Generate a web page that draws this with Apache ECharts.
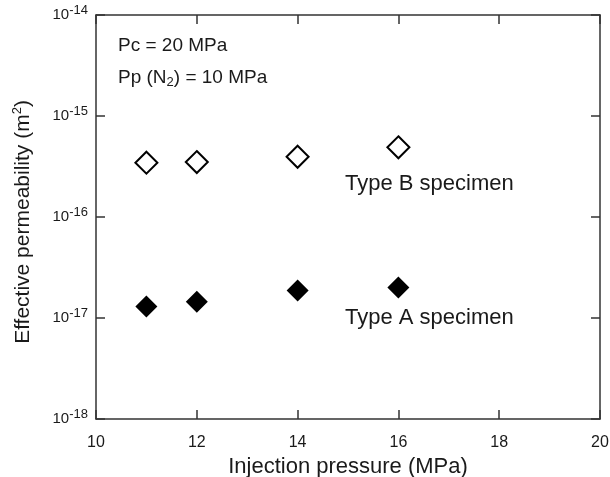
<!DOCTYPE html>
<html>
<head>
<meta charset="utf-8">
<script src="https://cdn.jsdelivr.net/npm/echarts@6/dist/echarts.min.js"></script>
<style>
  html, body { margin: 0; padding: 0; background: #fff; }
  #chart { width: 610px; height: 477px; }
</style>
</head>
<body>
<div id="chart"></div>
<script>
// Injection pressure (MPa) for each measurement
var pressure = [11, 12, 14, 16];
// Effective permeability (m^2)
var typeB = [3.45e-16, 3.5e-16, 3.95e-16, 4.9e-16];
var typeA = [1.3e-17, 1.45e-17, 1.87e-17, 2.0e-17];
// Axis ranges / ticks
var xTicks = { min: 10, max: 20, step: 2 };
var yRange = { min: 1e-18, max: 1e-14 };

var FONT = '"Liberation Sans", Arial, Helvetica, sans-serif';
var INK = '#1a1a1a';
var FRAME = '#333';

function pairs(xs, ys) {
  return xs.map(function (x, i) { return [x, ys[i]]; });
}

function powLabel(v) {
  var e = Math.round(Math.log10(v));
  return '{b|10}{s|' + e + '}';
}

var chart = echarts.init(document.getElementById('chart'), null, { renderer: 'canvas' });

var tickBase = { show: true, inside: true, length: 9, lineStyle: { color: FRAME, width: 1.5 } };
var lineBase = { show: true, lineStyle: { color: FRAME, width: 1.5 } };

var option = {
  animation: false,
  backgroundColor: '#fff',
  grid: { left: 96, right: 10, top: 15, bottom: 58, containLabel: false, outerBoundsMode: 'none' },
  xAxis: [{
    type: 'value', position: 'bottom',
    min: xTicks.min, max: xTicks.max, interval: xTicks.step,
    axisLine: lineBase, axisTick: tickBase, splitLine: { show: false },
    axisLabel: { color: INK, fontFamily: FONT, fontSize: 16, margin: 16 },
    name: 'Injection pressure (MPa)', nameLocation: 'middle', nameGap: 37,
    nameTextStyle: { color: INK, fontFamily: FONT, fontSize: 22 }
  }, {
    type: 'value', position: 'top',
    min: xTicks.min, max: xTicks.max, interval: xTicks.step,
    axisLine: lineBase, axisTick: tickBase, axisLabel: { show: false }, splitLine: { show: false }
  }],
  yAxis: [{
    type: 'log', logBase: 10, position: 'left',
    min: yRange.min, max: yRange.max,
    axisLine: lineBase, axisTick: tickBase, splitLine: { show: false }, minorTick: { show: false },
    axisLabel: {
      formatter: powLabel, margin: 8,
      rich: {
        b: { color: INK, fontFamily: FONT, fontSize: 15 },
        s: { color: INK, fontFamily: FONT, fontSize: 13, padding: [0, 0, 10, 0] }
      }
    },
    name: 'Effective permeability (m{sup|2})', nameLocation: 'middle', nameGap: 60,
    nameTextStyle: {
      color: INK, fontFamily: FONT, fontSize: 21, padding: [0, 10, 0, 0],
      rich: { sup: { color: INK, fontFamily: FONT, fontSize: 13, padding: [0, 0, 12, 0] } }
    }
  }, {
    type: 'log', logBase: 10, position: 'right',
    min: yRange.min, max: yRange.max,
    axisLine: lineBase, axisTick: tickBase, axisLabel: { show: false }, splitLine: { show: false }
  }],
  series: [{
    name: 'Type B specimen', type: 'scatter',
    data: pairs(pressure, typeB),
    symbol: 'diamond', symbolSize: 22,
    itemStyle: { color: '#fff', borderColor: '#000', borderWidth: 2, opacity: 1 }
  }, {
    name: 'Type A specimen', type: 'scatter',
    data: pairs(pressure, typeA),
    symbol: 'diamond', symbolSize: 22,
    itemStyle: { color: '#000', borderColor: '#000', borderWidth: 0, opacity: 1 }
  }],
  graphic: [
    { type: 'text', x: 118, y: 46, style: { text: 'Pc = 20 MPa', fill: INK, font: '19px ' + FONT, verticalAlign: 'middle' } },
    { type: 'text', x: 118, y: 78, style: {
        text: 'Pp (N{sub|2}) = 10 MPa', fill: INK, fontFamily: FONT, fontSize: 19, verticalAlign: 'middle',
        rich: { sub: { fill: INK, fontFamily: FONT, fontSize: 13, padding: [9, 0, 0, 0] } }
    } },
    { type: 'text', x: 345, y: 184, style: { text: 'Type B specimen', fill: INK, font: '22px ' + FONT, verticalAlign: 'middle' } },
    { type: 'text', x: 345, y: 318, style: { text: 'Type A specimen', fill: INK, font: '22px ' + FONT, verticalAlign: 'middle' } }
  ]
};

chart.setOption(option);
</script>
</body>
</html>
